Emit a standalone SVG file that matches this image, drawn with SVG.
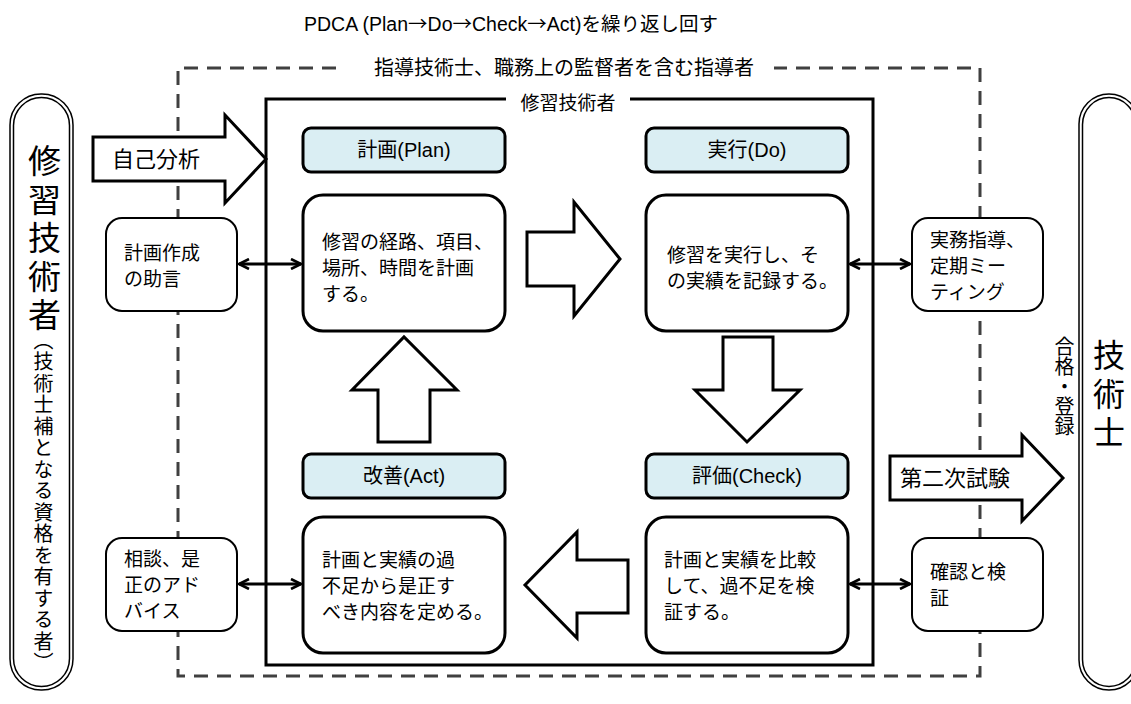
<svg xmlns="http://www.w3.org/2000/svg" width="1131" height="704" viewBox="0 0 1131 704">
<defs>
<marker id="ah" viewBox="0 0 12 12" refX="11" refY="6" markerWidth="12" markerHeight="12" markerUnits="userSpaceOnUse" orient="auto-start-reverse">
<path d="M1,1 L11,6 L1,11" fill="none" stroke="#000" stroke-width="2.6"/>
</marker>
</defs>
<style>
text{font-family:"Liberation Sans","Noto Sans CJK JP",sans-serif;fill:#000}
.jp{font-family:"Noto Sans CJK JP",sans-serif}
.hdr{fill:#DAEEF3;stroke:#000;stroke-width:3}
.box{fill:#fff;stroke:#000;stroke-width:3}
.side{fill:#fff;stroke:#000;stroke-width:2}
.blk{fill:#fff;stroke:#000;stroke-width:3;stroke-linejoin:miter}
.dash{fill:none;stroke:#404040;stroke-width:3;stroke-dasharray:14 9}
.solid{fill:none;stroke:#000;stroke-width:3}
.c{text-anchor:middle}
.t19{font-size:19px}
.t20{font-size:20px}
.v{writing-mode:vertical-rl}
.vu{writing-mode:vertical-rl;text-orientation:upright}
.conn{stroke:#000;stroke-width:3;fill:none}
</style>
<rect width="1131" height="704" fill="#fff"/>
<text class="c" x="511" y="31" font-size="19.5">PDCA (Plan<tspan class="jp">→</tspan>Do<tspan class="jp">→</tspan>Check<tspan class="jp">→</tspan>Act)を繰り返し回す</text>

<g id="mentor-frame">
<path class="dash" d="M336,68 H178 V676 H980 V68 H774"/>
<text class="c" x="564" y="75" font-size="20">指導技術士、職務上の監督者を含む指導者</text>
</g>
<g id="trainee-frame">
<path class="solid" d="M506,99 H266 V665 H873 V99 H630"/>
<text class="c t19" x="568" y="110">修習技術者</text>
</g>

<g id="left-pill">
<rect x="10" y="94" width="63" height="596" rx="31" fill="#fff" stroke="#000" stroke-width="1.5"/>
<rect x="13.5" y="97.5" width="56" height="589" rx="28" fill="none" stroke="#000" stroke-width="1.5"/>
<text class="vu" x="42" y="144" font-size="33" letter-spacing="5.5">修習技術者</text>
<text class="v" x="42" y="330" font-size="20" letter-spacing="1.5">（技術士補となる資格を有する者）</text>
</g>
<g id="right-pill">
<rect x="1079" y="94" width="60" height="596" rx="30" fill="#fff" stroke="#000" stroke-width="1.5"/>
<rect x="1082.5" y="97.5" width="53" height="589" rx="27" fill="none" stroke="#000" stroke-width="1.5"/>
<text class="vu" x="1106" y="339" font-size="32" letter-spacing="6.5">技術士</text>
</g>
<g id="pass-label">
<text class="vu" x="1063" y="336" font-size="20">合格・登録</text>
</g>

<g id="self-analysis">
<path class="blk" d="M93,137 H225 V115 L266,159 L225,203 V181 H93 Z"/>
<text class="c" x="156" y="167" font-size="22">自己分析</text>
</g>
<g id="second-exam">
<path class="blk" d="M890,456 H1022 V435 L1063,478 L1022,521 V500 H890 Z"/>
<text class="c" x="955" y="486" font-size="22">第二次試験</text>
</g>

<g id="plan">
<rect class="hdr" x="303" y="128" width="202" height="44" rx="8"/>
<text class="c t20" x="404" y="157">計画(Plan)</text>
<rect class="box" x="303" y="195" width="202" height="136" rx="20"/>
<text class="t19" x="322" y="249">修習の経路、項目、</text>
<text class="t19" x="322" y="275">場所、時間を計画</text>
<text class="t19" x="322" y="301">する。</text>
</g>
<g id="do">
<rect class="hdr" x="646" y="128" width="202" height="44" rx="8"/>
<text class="c t20" x="747" y="157">実行(Do)</text>
<rect class="box" x="646" y="195" width="202" height="136" rx="20"/>
<text class="t19" x="667" y="262">修習を実行し、そ</text>
<text class="t19" x="667" y="288">の実績を記録する。</text>
</g>
<g id="act">
<rect class="hdr" x="303" y="454" width="202" height="44" rx="8"/>
<text class="c t20" x="404" y="483">改善(Act)</text>
<rect class="box" x="303" y="517" width="202" height="136" rx="20"/>
<text class="t19" x="322" y="567">計画と実績の過</text>
<text class="t19" x="322" y="593">不足から是正す</text>
<text class="t19" x="322" y="619">べき内容を定める。</text>
</g>
<g id="check">
<rect class="hdr" x="646" y="454" width="202" height="44" rx="8"/>
<text class="c t20" x="747" y="483">評価(Check)</text>
<rect class="box" x="646" y="517" width="202" height="136" rx="20"/>
<text class="t19" x="664" y="567">計画と実績を比較</text>
<text class="t19" x="664" y="593">して、過不足を検</text>
<text class="t19" x="664" y="619">証する。</text>
</g>

<g id="advice-plan">
<rect class="side" x="106" y="218" width="131" height="93" rx="16"/>
<text class="t19" x="124" y="260">計画作成</text>
<text class="t19" x="124" y="286">の助言</text>
</g>
<g id="advice-act">
<rect class="side" x="106" y="538" width="131" height="93" rx="16"/>
<text class="t19" x="124" y="566">相談、是</text>
<text class="t19" x="124" y="592">正のアド</text>
<text class="t19" x="124" y="618">バイス</text>
</g>
<g id="guidance">
<rect class="side" x="912" y="218" width="131" height="93" rx="16"/>
<text class="t19" x="930" y="247">実務指導、</text>
<text class="t19" x="930" y="273">定期ミー</text>
<text class="t19" x="930" y="299">ティング</text>
</g>
<g id="verify">
<rect class="side" x="912" y="538" width="131" height="93" rx="16"/>
<text class="t19" x="930" y="579">確認と検</text>
<text class="t19" x="930" y="605">証</text>
</g>

<g id="connectors">
<path class="blk" d="M527,232 H574 V202 L620,259 L574,316 V286 H527 Z"/>
<path class="blk" d="M723,337 H773 V390 H800 L747,442 L695,390 H723 Z"/>
<path class="blk" d="M378,442 H430 V390 H457 L404,337 L352,390 H378 Z"/>
<path class="blk" d="M628,560 H577 V532 L525,585 L577,638 V613 H628 Z"/>
<line class="conn" x1="239" y1="264" x2="301" y2="264" marker-start="url(#ah)" marker-end="url(#ah)"/>
<line class="conn" x1="850" y1="264" x2="910" y2="264" marker-start="url(#ah)" marker-end="url(#ah)"/>
<line class="conn" x1="239" y1="584" x2="301" y2="584" marker-start="url(#ah)" marker-end="url(#ah)"/>
<line class="conn" x1="850" y1="584" x2="910" y2="584" marker-start="url(#ah)" marker-end="url(#ah)"/>
</g>
</svg>
